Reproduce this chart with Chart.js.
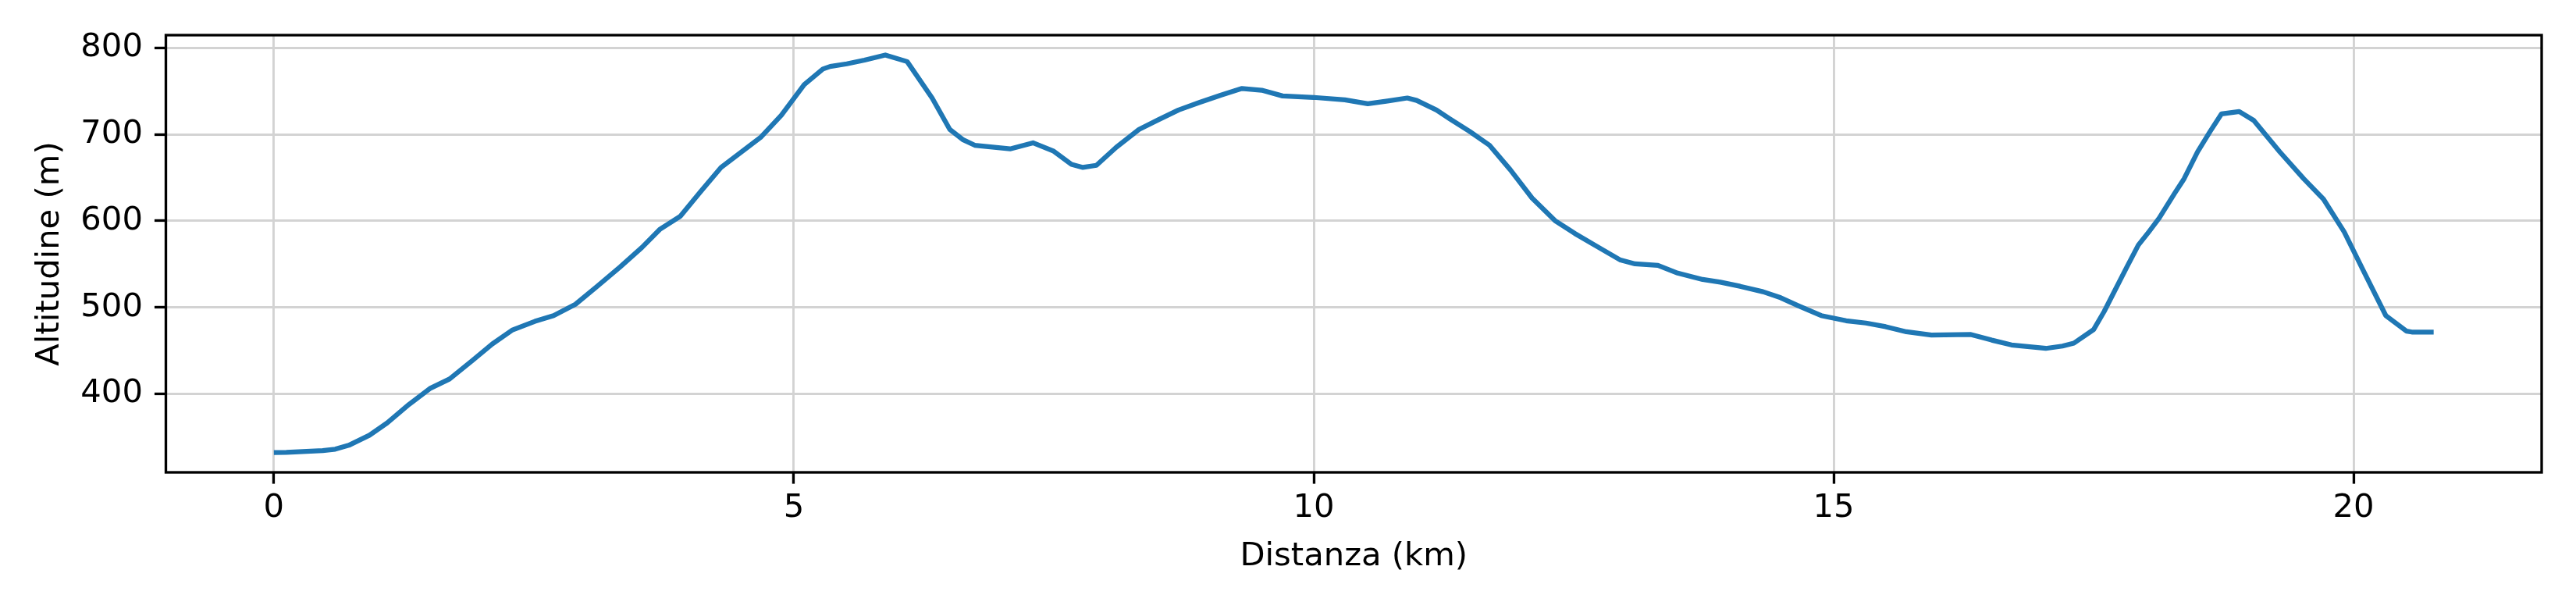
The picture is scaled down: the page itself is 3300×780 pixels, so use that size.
<!DOCTYPE html>
<html>
<head>
<meta charset="utf-8">
<script src="https://cdn.jsdelivr.net/npm/chart.js@4/dist/chart.umd.min.js"></script>
<style>
html, body { margin: 0; padding: 0; background: #ffffff; }
canvas { display: block; }
</style>
</head>
<body>
<canvas id="c" width="3300" height="780" style="width:3300px;height:780px"></canvas>
<script>
// Distance along the route (km)
const distanzaKm = [
  0.00, 0.12, 0.47, 0.59, 0.72, 0.92, 1.09, 1.30, 1.50, 1.69,
  1.91, 2.10, 2.29, 2.51, 2.69, 2.90, 3.11, 3.33, 3.54, 3.71,
  3.91, 4.10, 4.30, 4.49, 4.68, 4.88, 5.10, 5.28, 5.35, 5.51,
  5.68, 5.88, 6.09, 6.33, 6.50, 6.63, 6.74, 7.08, 7.30, 7.50,
  7.67, 7.78, 7.91, 8.10, 8.32, 8.51, 8.70, 8.90, 9.11, 9.31,
  9.50, 9.70, 10.00, 10.30, 10.52, 10.71, 10.90, 10.99, 11.18, 11.31,
  11.50, 11.69, 11.89, 12.10, 12.32, 12.51, 12.73, 12.95, 13.09, 13.31,
  13.50, 13.74, 13.91, 14.10, 14.32, 14.49, 14.66, 14.88, 15.12, 15.31,
  15.50, 15.70, 15.94, 16.32, 16.52, 16.71, 17.04, 17.20, 17.31, 17.50,
  17.60, 17.71, 17.82, 17.93, 18.03, 18.13, 18.28, 18.37, 18.50, 18.62,
  18.73, 18.90, 19.04, 19.20, 19.29, 19.52, 19.71, 19.91, 20.09, 20.31,
  20.51, 20.56, 20.77
];
// Elevation (m)
const altitudineM = [
  332.3, 332.5, 334.4, 336.1, 340.6, 352.3, 366.5, 387.9, 406.2, 417.3,
  438.7, 457.7, 473.6, 483.9, 490.5, 503.6, 524.4, 546.8, 569.3, 590.0,
  605.5, 633.2, 661.8, 679.1, 696.4, 722.0, 757.5, 775.5, 778.5, 781.5,
  785.8, 791.7, 784.1, 742.0, 705.7, 693.6, 687.4, 683.2, 690.2, 680.5,
  665.3, 661.8, 664.2, 685.0, 705.7, 717.1, 728.2, 736.8, 745.4, 753.0,
  751.0, 744.4, 742.7, 739.9, 735.4, 738.5, 742.0, 739.2, 728.2, 717.8,
  703.3, 687.4, 659.1, 626.3, 600.3, 585.5, 570.0, 554.7, 550.3, 548.5,
  539.6, 532.3, 529.2, 524.4, 518.1, 511.2, 501.9, 490.5, 484.6, 481.9,
  477.7, 471.8, 468.0, 468.7, 462.2, 456.6, 452.6, 455.3, 458.7, 474.3,
  495.0, 520.9, 546.8, 572.0, 587.2, 603.1, 632.1, 648.7, 679.8, 703.3,
  723.7, 726.4, 716.1, 692.9, 679.8, 648.7, 625.2, 587.2, 543.4, 490.5,
  472.5, 471.5, 471.5
];
const xTickValues = [0, 5, 10, 15, 20];
const yTickValues = [400, 500, 600, 700, 800];
const xTitle = 'Distanza (km)';
const yTitle = 'Altitudine (m)';

// matplotlib-like autoscale with 5% margins
function withMargins(values) {
  const lo = Math.min(...values), hi = Math.max(...values);
  const span = hi - lo;
  return [lo - 0.05 * span, hi + 0.05 * span];
}
const [xMin, xMax] = withMargins(distanzaKm);
const [yMin, yMax] = withMargins(altitudineM);

const points = distanzaKm.map((d, i) => ({ x: d, y: altitudineM[i] }));

const FONT = { family: 'DejaVu Sans', size: 41.7, lineHeight: 1.2 };
const SPINE = 3.33;

const framePlugin = {
  id: 'frame',
  afterDatasetsDraw(chart) {
    const { ctx, chartArea: a } = chart;
    ctx.save();
    ctx.strokeStyle = '#000000';
    ctx.lineWidth = SPINE;
    ctx.lineJoin = 'miter';
    ctx.strokeRect(a.left, a.top, a.right - a.left, a.bottom - a.top);
    ctx.restore();
  }
};

new Chart(document.getElementById('c'), {
  type: 'line',
  data: {
    datasets: [{
      data: points,
      borderColor: '#1f77b4',
      borderWidth: 6.25,
      pointRadius: 0,
      tension: 0,
      fill: false,
      borderJoinStyle: 'round',
      borderCapStyle: 'butt'
    }]
  },
  options: {
    responsive: false,
    devicePixelRatio: 1,
    animation: false,
    events: [],
    layout: { padding: { left: 0, top: 45, right: 44, bottom: 0 } },
    plugins: { legend: { display: false }, tooltip: { enabled: false } },
    scales: {
      x: {
        type: 'linear',
        min: xMin,
        max: xMax,
        afterFit(s) { s.height = 175; },
        afterBuildTicks(s) { s.ticks = xTickValues.map(v => ({ value: v })); },
        border: { display: false },
        grid: {
          color: '#d3d3d3',
          lineWidth: 2.9,
          drawTicks: true,
          tickLength: 14.6,
          tickColor: '#000000',
          tickWidth: SPINE
        },
        ticks: {
          color: '#000000',
          font: FONT,
          padding: 7,
          maxRotation: 0,
          autoSkip: false,
          callback: v => String(v)
        },
        title: {
          display: true,
          text: xTitle,
          color: '#000000',
          font: FONT,
          padding: { top: 0, bottom: 42 }
        }
      },
      y: {
        type: 'linear',
        min: yMin,
        max: yMax,
        afterFit(s) { s.width = 212.5; },
        afterBuildTicks(s) { s.ticks = yTickValues.map(v => ({ value: v })); },
        border: { display: false },
        grid: {
          color: '#d3d3d3',
          lineWidth: 2.9,
          drawTicks: true,
          tickLength: 14.6,
          tickColor: '#000000',
          tickWidth: SPINE
        },
        ticks: {
          color: '#000000',
          font: FONT,
          padding: 15,
          autoSkip: false,
          callback: v => String(v)
        },
        title: {
          display: true,
          text: yTitle,
          color: '#000000',
          font: FONT,
          padding: { top: 39, bottom: 0 }
        }
      }
    }
  },
  plugins: [framePlugin]
});
</script>
</body>
</html>
